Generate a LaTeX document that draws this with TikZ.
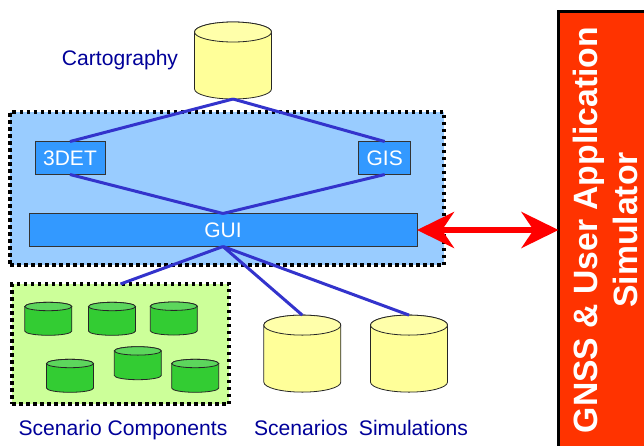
\documentclass[tikz,border=0pt]{standalone}
\usepackage{fontspec}
\setmainfont{Liberation Sans}
\usetikzlibrary{arrows.meta}
\definecolor{lbl}{HTML}{000099}
\definecolor{link}{HTML}{3333CC}
\definecolor{panelblue}{HTML}{99CCFF}
\definecolor{boxblue}{HTML}{3399FF}
\definecolor{panelgreen}{HTML}{CCFF99}
\definecolor{simred}{HTML}{FF3300}
\definecolor{ybody}{HTML}{FFFF99}
\definecolor{yend}{HTML}{FFFFAA}
\definecolor{gbody}{HTML}{33CC33}
\definecolor{gend}{HTML}{5CD65C}
\tikzset{
  cylline/.style={draw=black!85,line width=0.8pt},
  panel/.style={draw=black,line width=3.8pt,dash pattern=on 3.5pt off 3.5pt,inner sep=0,outer sep=0},
  toolbox/.style={draw=black!80,line width=0.8pt,fill=boxblue,text=white,font=\fontsize{21}{24}\selectfont,inner sep=0,outer sep=0,minimum height=33pt},
  lab/.style={text=lbl,font=\fontsize{21.1}{25}\selectfont,inner sep=0},
  conn/.style={draw=link,line width=3pt},
}
% name, centre x, centre y, half width, half height, end radius, body colour, end colour
\newcommand{\cylnode}[8]{%
  \path[cylline,fill=#7] (#2-#4,#3-#5+#6) -- (#2-#4,#3+#5-#6)
     arc[start angle=180,end angle=360,x radius=#4,y radius=-#6]
     -- (#2+#4,#3-#5+#6)
     arc[start angle=0,end angle=180,x radius=#4,y radius=-#6] -- cycle;
  \path[cylline,fill=#8] (#2,#3-#5+#6) ellipse[x radius=#4,y radius=#6];
  \node[inner sep=0,outer sep=0,minimum width=2*#4 pt,minimum height=2*#5 pt] (#1) at (#2,#3) {};
}
\begin{document}
\begin{tikzpicture}[x=1pt,y=-1pt]
\useasboundingbox (0,0) rectangle (644,445);
\clip (0,0) rectangle (644,445);
% panels
\node[panel,fill=panelblue,minimum width=434pt,minimum height=153pt] (tools) at (227,188.5) {};
\node[panel,fill=panelgreen,minimum width=217pt,minimum height=120pt] (comps) at (120.5,344) {};
% cylinders
\cylnode{carto}{233}{60.5}{38.5}{38.5}{10}{ybody}{yend}
\cylnode{scen}{302.3}{353.6}{38.5}{38.5}{10}{ybody}{yend}
\cylnode{simu}{409}{353.6}{38.5}{38.5}{10}{ybody}{yend}
\cylnode{g1}{48.3}{318.8}{23.5}{16.5}{4.2}{gbody}{gend}
\cylnode{g2}{112}{318.8}{23.5}{16.5}{4.2}{gbody}{gend}
\cylnode{g3}{173.8}{318.5}{23.5}{16.5}{4.2}{gbody}{gend}
\cylnode{g4}{70}{375.8}{23.5}{16.5}{4.2}{gbody}{gend}
\cylnode{g5}{137.8}{363.2}{23.5}{16.5}{4.2}{gbody}{gend}
\cylnode{g6}{195.2}{375.8}{23.5}{16.5}{4.2}{gbody}{gend}
% boxes
\node[toolbox,minimum width=70pt] (det) at (70,158) {3DET};
\node[toolbox,minimum width=52pt] (gis) at (384.7,158) {GIS};
\node[toolbox,minimum width=388pt] (gui) at (223,230) {GUI};
% simulator
\node[draw=black,line width=3pt,fill=simred,inner sep=0,outer sep=0,minimum width=120pt,minimum height=450pt] (sim) at (618.5,236) {};
\node[rotate=90,align=center,text=white,inner sep=0,font=\fontsize{33.7}{40}\selectfont\bfseries] (simtext) at (605,230) {GNSS \& User Application\\Simulator};
% connectors
\draw[conn] (carto.south) -- (det.north);
\draw[conn] (carto.south) -- (gis.north);
\draw[conn] (det.south) -- (gui.north);
\draw[conn] (gis.south) -- (gui.north);
\draw[conn] (gui.south) -- (comps.north);
\draw[conn] (gui.south) -- (scen.north);
\draw[conn] (gui.south) -- (simu.north);
\draw[draw=red,line width=5.5pt,{Stealth[length=37pt,width=36pt,inset=12pt]}-{Stealth[length=37pt,width=36pt,inset=12pt]}] (gui.east) -- (sim.west |- gui.east);
% labels
\node[lab] (l1) at (120,60) {Cartography};
\node[lab] (l2) at (123,430) {Scenario Components};
\node[lab] (l3) at (301,428) {Scenarios};
\node[lab] (l4) at (413.5,428) {Simulations};
\end{tikzpicture}
\end{document}
